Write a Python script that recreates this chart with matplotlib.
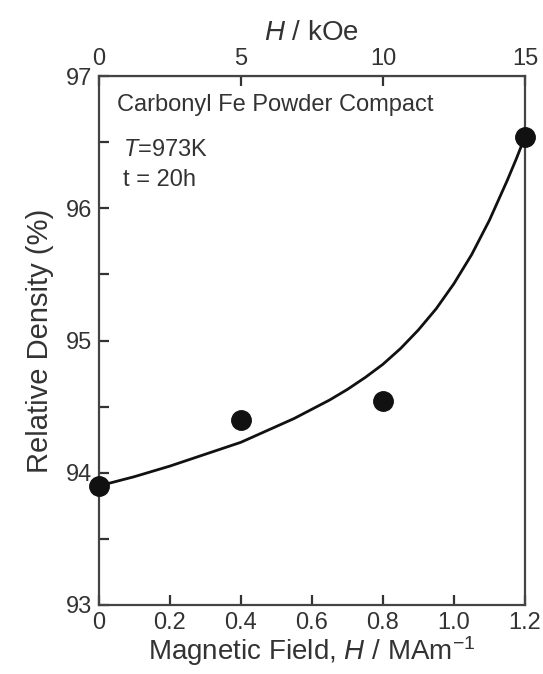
import numpy as np
import matplotlib
matplotlib.use("Agg")
import matplotlib.pyplot as plt

plt.rcParams['font.family'] = ['Liberation Sans', 'DejaVu Sans']
plt.rcParams['mathtext.fontset'] = 'custom'
plt.rcParams['mathtext.rm'] = 'Liberation Sans'
plt.rcParams['mathtext.it'] = 'Liberation Sans:italic'

# measured points
field = [0.0, 0.4, 0.8, 1.2]            # MA/m
density = [93.90, 94.40, 94.54, 96.54]  # %

# fitted curve
curve_x = [0.0, 0.1, 0.2, 0.3, 0.4, 0.5, 0.55, 0.6, 0.65, 0.7, 0.75, 0.8, 0.85,
           0.9, 0.95, 1.0, 1.05, 1.1, 1.15, 1.175, 1.2]
curve_y = [93.90, 93.97, 94.05, 94.14, 94.23, 94.35, 94.41, 94.48, 94.55, 94.63,
           94.72, 94.82, 94.94, 95.08, 95.24, 95.43, 95.65, 95.91, 96.21, 96.37, 96.54]

xticks = [0, 0.2, 0.4, 0.6, 0.8, 1.0, 1.2]
xticklabels = ['0', '0.2', '0.4', '0.6', '0.8', '1.0', '1.2']
koe_ticks = [0, 5, 10, 15]

fig = plt.figure(figsize=(5.43, 6.74), dpi=100)
ax = fig.add_axes([0.1818, 0.1024, 0.785, 0.7848])

ax.plot(curve_x, curve_y, color='#111111', lw=2.0, zorder=2)
ax.plot(field, density, 'o', color='#111111', ms=14, clip_on=False, zorder=3)

ax.set_xlim(0, 1.2)
ax.set_ylim(93, 97)
ax.set_xticks(xticks)
ax.set_xticklabels(xticklabels)
ax.set_yticks([93, 94, 95, 96, 97])
ax.set_yticks([93.5, 94.5, 95.5, 96.5], minor=True)
ax.tick_params(axis='both', which='both', direction='in', labelsize=17,
               color='#333333', labelcolor='#333333', width=1.6)
ax.tick_params(axis='both', which='major', length=7, pad=5)
ax.tick_params(axis='y', which='minor', length=7)
for s in ax.spines.values():
    s.set_linewidth(1.6)
    s.set_color('#444444')

ax.set_xlabel('Magnetic Field, $\\it{H}$ / MAm$^{-1}$', fontsize=20, color='#333333', labelpad=0)
ax.set_ylabel('Relative Density (%)', fontsize=21, color='#333333', labelpad=8)

top = ax.secondary_xaxis('top', functions=(lambda v: v * 12.5, lambda v: v / 12.5))
top.set_xticks(koe_ticks)
top.tick_params(direction='in', length=7, width=1.6, labelsize=17, color='#333333',
                labelcolor='#333333', pad=4)
top.set_xlabel('$\\it{H}$ / kOe', fontsize=20, color='#333333', labelpad=6)

ax.text(0.043, 0.945, 'Carbonyl Fe Powder Compact', transform=ax.transAxes,
        fontsize=17, color='#333333', va='center')
ax.text(0.057, 0.86, '$\\it{T}$=973K', transform=ax.transAxes,
        fontsize=17, color='#333333', va='center')
ax.text(0.057, 0.803, 't = 20h', transform=ax.transAxes,
        fontsize=17, color='#333333', va='center')

fig.savefig('out.png', dpi=100)
